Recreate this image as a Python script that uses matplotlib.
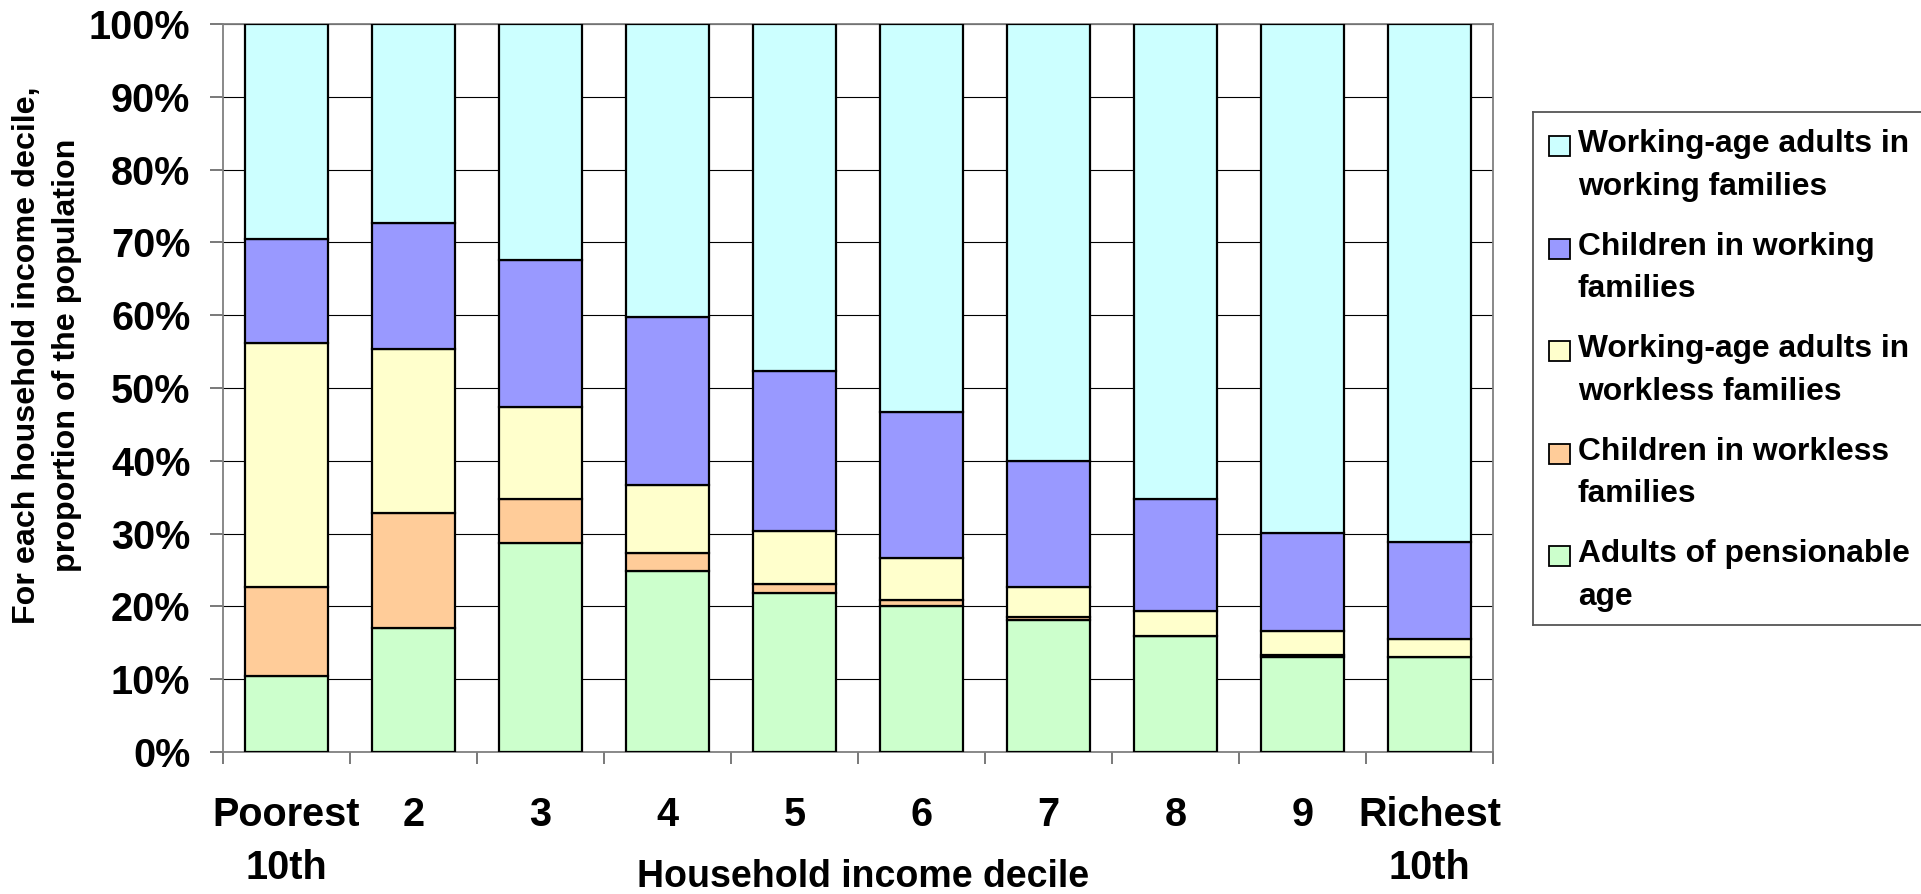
import numpy as np
import matplotlib
matplotlib.use("Agg")
import matplotlib.pyplot as plt
from matplotlib.patches import Rectangle

plt.rcParams['font.family'] = ['Liberation Sans', 'DejaVu Sans']
plt.rcParams['font.weight'] = 'bold'

# Data (percent of each decile's population), stacked from bottom to top
deciles = ['Poorest\n10th', '2', '3', '4', '5', '6', '7', '8', '9', 'Richest\n10th']
pensioners = [10.4, 17.0, 28.7, 24.8, 21.9, 20.1, 18.2, 15.9, 13.1, 13.0]
children_workless = [12.3, 15.8, 6.0, 2.6, 1.2, 0.8, 0.4, 0.1, 0.2, 0.1]
adults_workless = [33.5, 22.6, 12.7, 9.3, 7.3, 5.8, 4.0, 3.3, 3.3, 2.4]
children_working = [14.3, 17.3, 20.2, 23.0, 22.0, 20.0, 17.4, 15.4, 13.5, 13.4]
adults_working = [29.5, 27.3, 32.4, 40.3, 47.6, 53.3, 60.0, 65.3, 69.9, 71.1]

series = [
    (pensioners, '#CCFFCC', 'Adults of pensionable\nage'),
    (children_workless, '#FFCC99', 'Children in workless\nfamilies'),
    (adults_workless, '#FFFFCC', 'Working-age adults in\nworkless families'),
    (children_working, '#9999FF', 'Children in working\nfamilies'),
    (adults_working, '#CCFFFF', 'Working-age adults in\nworking families'),
]

W, H = 1921, 894
fig = plt.figure(figsize=(W / 100, H / 100), dpi=100)
ax = fig.add_axes([223 / W, 1 - 752 / H, (1493 - 223) / W, (752 - 24) / H])

x = np.arange(len(deciles))
bottom = np.zeros(len(deciles))
for values, color, label in series:
    ax.bar(x, values, width=0.66, bottom=bottom, color=color,
           edgecolor='black', linewidth=1.6, zorder=3)
    bottom += np.array(values)

ax.set_xlim(-0.5, len(deciles) - 0.5)
ax.set_ylim(0, 100)

# y axis
ax.set_yticks(np.arange(0, 101, 10))
ax.set_yticklabels([f'{v}%' for v in range(0, 101, 10)], fontsize=28.5, fontweight='bold')
ax.tick_params(axis='y', direction='out', length=9.5, width=1.1, color='#555555', pad=14)
ax.yaxis.grid(True, color='black', linewidth=0.8, zorder=0)

# x axis: ticks between categories, labels at centres
ax.set_xticks(np.arange(-0.5, len(deciles), 1.0))
ax.set_xticklabels([])
ax.tick_params(axis='x', which='major', direction='out', length=8.6, width=1.1, color='#555555')
ax.set_xticks(x, minor=True)
ax.set_xticklabels(deciles, minor=True, fontsize=28.5, fontweight='bold', linespacing=1.5)
ax.tick_params(axis='x', which='minor', length=0, pad=32)

for side in ['left', 'right', 'top', 'bottom']:
    ax.spines[side].set_color('#808080')
    ax.spines[side].set_linewidth(1.3)

fig.text(863 / W, 1 - 887 / H, 'Household income decile', ha='center', va='baseline',
         fontsize=27, fontweight='bold')
fig.text(47 / W, 1 - 355 / H,
         'For each household income decile,\nproportion of the population',
         rotation=90, ha='center', va='center', multialignment='center',
         fontsize=23.2, fontweight='bold', linespacing=1.4)

# legend drawn in its own axes, measured in pixels
lax = fig.add_axes([1533 / W, 1 - 625 / H, (1935 - 1533) / W, (625 - 112) / H])
lax.set_xlim(1533, 1935)
lax.set_ylim(625, 112)
lax.set_xticks([])
lax.set_yticks([])
for side in lax.spines:
    lax.spines[side].set_color('#555555')
    lax.spines[side].set_linewidth(1.3)

for i, (values, color, label) in enumerate(reversed(series)):
    top = 129 + i * 102.5
    lax.add_patch(Rectangle((1549, top + 7), 21, 20, facecolor=color,
                            edgecolor='black', linewidth=1.3))
    lax.text(1578, top, label, ha='left', va='top', fontsize=22.9,
             fontweight='bold', linespacing=1.55)

fig.savefig('out.png', dpi=100)
